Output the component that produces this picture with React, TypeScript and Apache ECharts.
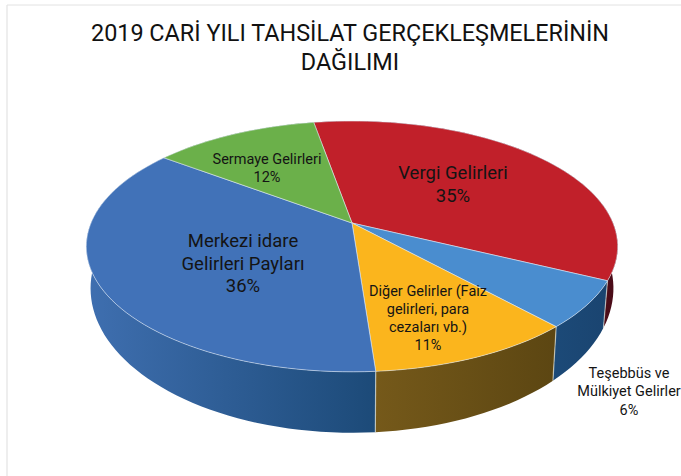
import React, { useEffect, useRef } from "react";
import * as echarts from "echarts";

const TITLE = "2019 CARİ YILI TAHSİLAT GERÇEKLEŞMELERİNİN\nDAĞILIMI";
const CATEGORY_LINES = [
  ["Vergi Gelirleri"],
  ["Teşebbüs ve", "Mülkiyet Gelirler"],
  ["Diğer Gelirler (Faiz", "gelirleri, para", "cezaları vb.)"],
  ["Merkezi idare", "Gelirleri Payları"],
  ["Sermaye Gelirleri"],
];
const SHARES = [35, 6, 10.6, 36.4, 12];

const TOP_COLORS = ["#c1202a", "#4a8dcf", "#fbb51d", "#4172b8", "#6bb04a"];
const WALL_GRADIENTS = [
  ["#7a1320", "#4a0c18"],
  ["#1c4a78", "#1a4470"],
  ["#75591a", "#5c4612"],
  ["#3f6fb0", "#1c4a78"],
  ["#4f8a38", "#4f8a38"],
];
const LABEL_CENTERS = [
  [453, 173],
  [629, 373],
  [428, 291],
  [243, 241],
  [267, 159],
];
const LABEL_SIZES = [18.5, 14.5, 14.5, 18.5, 14.5];
const LABEL_GAPS = [23, 18.5, 18, 22.5, 18];
const FONT = "Roboto, sans-serif";

const HUB = [352, 223];
const RX = 261;
const RY = 121;
const TILT = 0.187;
const START_DEG = -10;

const project = (deg: number) => {
  const t = (deg * Math.PI) / 180;
  const u = Math.sin(t);
  const v = -Math.cos(t);
  const w = 1 - TILT * v;
  return [HUB[0] + (RX * u) / w, HUB[1] + (RY * v) / w];
};
const lower = (p: number[]) => [HUB[0] + 0.984 * (p[0] - HUB[0]), 1.152 * p[1] + 4.4];

const angleRange = (idx: number, total: number) => {
  let sum = 0;
  for (let i = 0; i < idx; i++) sum += SHARES[i];
  return [START_DEG + (sum / total) * 360, START_DEG + ((sum + SHARES[idx]) / total) * 360];
};
const arc = (a: number, b: number) => {
  const n = Math.max(4, Math.ceil((b - a) / 2));
  const out: number[][] = [];
  for (let i = 0; i <= n; i++) out.push(project(a + ((b - a) * i) / n));
  return out;
};
const TOTAL = SHARES.reduce((s, x) => s + x, 0);

export default function App() {
  const ref = useRef<HTMLDivElement>(null);
  useEffect(() => {
    document.body.style.margin = "0";
    const chart = echarts.init(ref.current!, undefined, { renderer: "svg" });
    chart.setOption({
      animation: false,
      backgroundColor: "#ffffff",
      title: {
        text: TITLE,
        left: 345,
        top: 13,
        textAlign: "center",
        textStyle: { fontFamily: FONT, fontSize: 23.4, fontWeight: 400, color: "#111111", lineHeight: 29 },
      },
      graphic: [
        { type: "line", shape: { x1: 7, y1: 5, x2: 7, y2: 476 }, style: { stroke: "#dddddd", lineWidth: 1 } },
        { type: "line", shape: { x1: 7, y1: 5, x2: 681, y2: 5 }, style: { stroke: "#e2e2e2", lineWidth: 1 } },
      ],
      series: [
        {
          type: "custom",
          coordinateSystem: "none",
          silent: true,
          z: 1,
          data: SHARES,
          renderItem: (params: any) => {
            const [a, b] = angleRange(params.dataIndex, TOTAL);
            const upper = arc(a, b);
            const low = upper.map(lower).reverse();
            const [c0, c1] = WALL_GRADIENTS[params.dataIndex];
            const s = upper[0];
            const e = lower(s);
            return {
              type: "group",
              children: [
                {
                  type: "polygon",
                  shape: { points: upper.concat(low) },
                  style: {
                    fill: new echarts.graphic.LinearGradient(0, 0, 1, 0, [
                      { offset: 0, color: c0 },
                      { offset: 1, color: c1 },
                    ]),
                  },
                },
                {
                  type: "line",
                  shape: { x1: s[0], y1: s[1], x2: e[0], y2: e[1] },
                  style: { stroke: "rgba(255,255,240,0.55)", lineWidth: 1.2 },
                },
              ],
            };
          },
        },
        {
          type: "custom",
          coordinateSystem: "none",
          silent: true,
          z: 2,
          data: SHARES,
          renderItem: (params: any) => {
            const [a, b] = angleRange(params.dataIndex, TOTAL);
            return {
              type: "polygon",
              shape: { points: [HUB].concat(arc(a, b)) },
              style: {
                fill: TOP_COLORS[params.dataIndex],
                stroke: "rgba(225,235,245,0.55)",
                lineWidth: 1,
                lineJoin: "round",
              },
            };
          },
        },
        {
          type: "custom",
          coordinateSystem: "none",
          silent: true,
          z: 3,
          data: SHARES,
          renderItem: (params: any) => {
            const i = params.dataIndex;
            const lines = CATEGORY_LINES[i].concat(`${Math.round(SHARES[i])}%`);
            return {
              type: "group",
              children: lines.map((text, j) => ({
                type: "text",
                style: {
                  text,
                  x: LABEL_CENTERS[i][0],
                  y: LABEL_CENTERS[i][1] + j * LABEL_GAPS[i],
                  align: "center",
                  verticalAlign: "middle",
                  fill: "#141414",
                  font: `400 ${LABEL_SIZES[i]}px ${FONT}`,
                },
              })),
            };
          },
        },
      ],
    });
    return () => chart.dispose();
  }, []);
  return <div ref={ref} style={{ position: "absolute", left: 0, top: 0, width: 681, height: 476 }} />;
}
